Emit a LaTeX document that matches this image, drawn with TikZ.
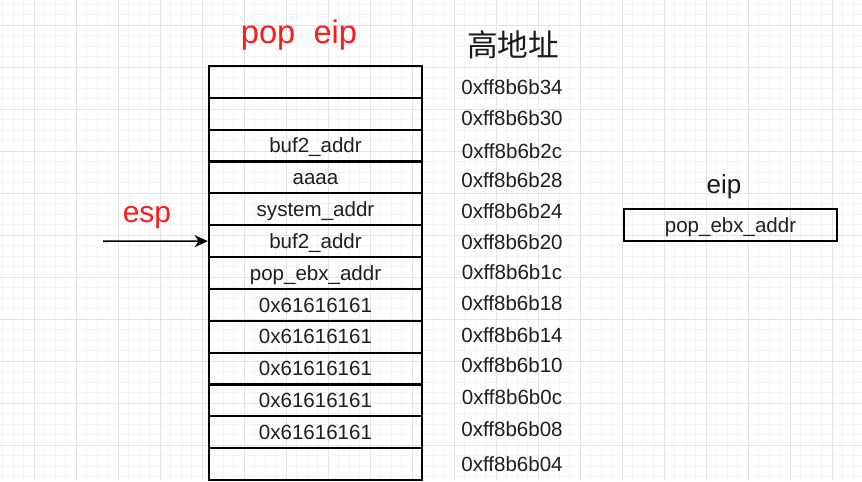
\documentclass[tikz,border=0pt]{standalone}
\usepackage{fontspec}
\setmainfont{Liberation Sans}
\newfontfamily\cjk{Noto Sans CJK SC}
\usetikzlibrary{arrows.meta}
\definecolor{gridmajor}{HTML}{E4E4E4}
\definecolor{gridminor}{HTML}{F4F4F4}
\definecolor{redtxt}{HTML}{FF1A1A}
\tikzset{
  cell/.style={draw=black, line width=1.6pt, inner sep=0pt, minimum width=159.75pt, minimum height=23.88pt, text height=10.9pt, text depth=0pt, font=\fontsize{15.4}{18}\selectfont, text=black!88},
  addr/.style={inner sep=0pt, font=\fontsize{15.4}{18}\selectfont, text=black!88},
  redlabel/.style={inner sep=0pt, text=redtxt},
  pointer/.style={line width=1.2pt, -{Stealth[length=10pt,width=9pt,inset=3pt]}}
}
\begin{document}
\begin{tikzpicture}[x=0.75pt,y=-0.75pt]
\useasboundingbox (0,0) rectangle (862,481);
\fill[white] (0,0) rectangle (862,481);
% grid
\foreach \i in {0,...,82} {\draw[gridminor,line width=0.5pt] ({2.5+10.5*\i},0) -- ({2.5+10.5*\i},481);}
\foreach \i in {0,...,46} {\draw[gridminor,line width=0.5pt] (0,{4+10.5*\i}) -- (862,{4+10.5*\i});}
\foreach \i in {0,...,20} {\draw[gridmajor,line width=0.7pt] ({34+42*\i},0) -- ({34+42*\i},481);}
\foreach \i in {0,...,11} {\draw[gridmajor,line width=0.7pt] (0,{25+42*\i}) -- (862,{25+42*\i});}
% stack cells
\def\rh{31.846}
\node[cell] (c0) at (315.5,{66+0.5*\rh}) {};
\node[cell] (c1) at (315.5,{66+1.5*\rh}) {};
\node[cell] (c2) at (315.5,{66+2.5*\rh}) {buf2\_addr};
\node[cell] (c3) at (315.5,{66+3.5*\rh}) {aaaa};
\node[cell] (c4) at (315.5,{66+4.5*\rh}) {system\_addr};
\node[cell] (c5) at (315.5,{66+5.5*\rh}) {buf2\_addr};
\node[cell] (c6) at (315.5,{66+6.5*\rh}) {pop\_ebx\_addr};
\node[cell] (c7) at (315.5,{66+7.5*\rh}) {0x61616161};
\node[cell] (c8) at (315.5,{66+8.5*\rh}) {0x61616161};
\node[cell] (c9) at (315.5,{66+9.5*\rh}) {0x61616161};
\node[cell] (c10) at (315.5,{66+10.5*\rh}) {0x61616161};
\node[cell] (c11) at (315.5,{66+11.5*\rh}) {0x61616161};
\node[cell] (c12) at (315.5,{66+12.5*\rh}) {};
% addresses
\node[addr] (a0) at (512,87) {0xff8b6b34};
\node[addr] (a1) at (512,118) {0xff8b6b30};
\node[addr] (a2) at (512,151) {0xff8b6b2c};
\node[addr] (a3) at (512,180) {0xff8b6b28};
\node[addr] (a4) at (512,211) {0xff8b6b24};
\node[addr] (a5) at (512,242) {0xff8b6b20};
\node[addr] (a6) at (512,272) {0xff8b6b1c};
\node[addr] (a7) at (512,303) {0xff8b6b18};
\node[addr] (a8) at (512,335) {0xff8b6b14};
\node[addr] (a9) at (512,365) {0xff8b6b10};
\node[addr] (a10) at (512,397) {0xff8b6b0c};
\node[addr] (a11) at (512,429) {0xff8b6b08};
\node[addr] (a12) at (512,464) {0xff8b6b04};
% titles
\node[redlabel, font=\fontsize{24.5}{28}\selectfont] (popeip) at (299,35) {pop\ \ eip};
\node[inner sep=0pt, font=\cjk\fontsize{23}{26}\selectfont, text=black!90] (high) at (513,45) {高地址};
\node[redlabel, font=\fontsize{22.5}{26}\selectfont] (esp) at (147,218) {esp};
% esp pointer
\coordinate (espstart) at (103,241.2);
\draw[pointer] (espstart) -- (c5.west);
% eip register
\node[inner sep=0pt, font=\fontsize{19.5}{22}\selectfont, text=black!90] (eiplbl) at (724,187) {eip};
\node[cell, minimum width=159.75pt, minimum height=23.5pt] (eipbox) at (730.5,225) {pop\_ebx\_addr};
\end{tikzpicture}
\end{document}
